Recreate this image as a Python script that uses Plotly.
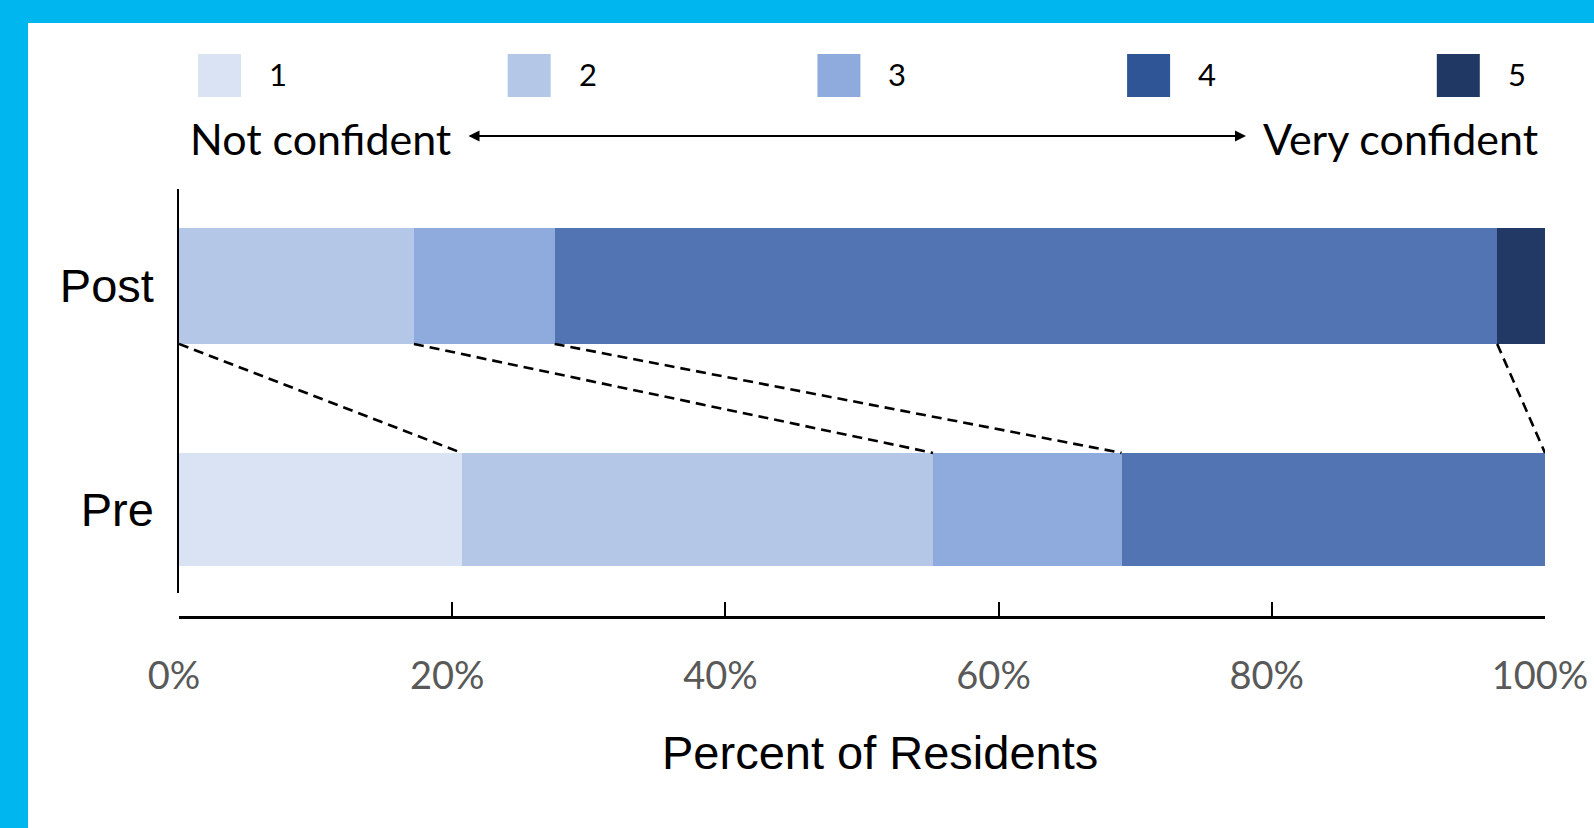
import numpy as np
import plotly.graph_objects as go

# ---------------- data ----------------
categories = ["Pre", "Post"]
levels = ["1", "2", "3", "4", "5"]
pre_pct = [20.7, 34.5, 13.8, 31.0, 0.0]
post_pct = [0.0, 17.2, 10.3, 69.0, 3.5]
x_tick_vals = [0, 20, 40, 60, 80, 100]
x_tick_text = ["0%", "20%", "40%", "60%", "80%", "100%"]
left_label = "Not confident"
right_label = "Very confident"
x_title = "Percent of Residents"

# ---------------- style ----------------
bar_colors = ["#DAE3F3", "#B4C7E7", "#8FAADC", "#5274B3", "#223865"]
legend_colors = ["#DAE3F3", "#B4C7E7", "#8FAADC", "#2F5597", "#203864"]
cyan = "#00B6EF"
W, H = 1594, 828
PL, PR, PT, PB = 179, 1545, 189, 617   # plot area in pixels
bar_widths = [0.506, 0.519]
y_range = [-0.374, 1.434]
x_range = [0, 100]


def px_x(p):
    return (p - PL) / (PR - PL)


def px_y(p):
    return (PB - p) / (PB - PT)


def px_data_x(p):
    return (p - PL) / (PR - PL) * (x_range[1] - x_range[0]) + x_range[0]


fig = go.Figure()
ypos = [0, 1]
for i, lev in enumerate(levels):
    fig.add_trace(go.Bar(
        orientation="h",
        x=[pre_pct[i], post_pct[i]],
        y=ypos,
        width=bar_widths,
        name=lev,
        marker=dict(color=bar_colors[i], line=dict(width=0)),
        showlegend=False,
        hoverinfo="skip",
    ))

# dashed connectors between cumulative boundaries (same level in both bars)
post_cum = np.cumsum(post_pct)
pre_cum = np.cumsum(pre_pct)
for k in range(4):
    fig.add_trace(go.Scatter(
        x=[post_cum[k], pre_cum[k]],
        y=[1 - bar_widths[1] / 2, 0 + bar_widths[0] / 2],
        mode="lines",
        line=dict(color="black", width=2.6, dash="10px,6px"),
        showlegend=False,
        hoverinfo="skip",
        cliponaxis=False,
    ))

shapes = []
annotations = []

# cyan frame (top and left)
shapes.append(dict(type="rect", xref="paper", yref="paper",
                   x0=px_x(0), x1=px_x(W), y0=px_y(23), y1=px_y(0),
                   fillcolor=cyan, line=dict(width=0), layer="above"))
shapes.append(dict(type="rect", xref="paper", yref="paper",
                   x0=px_x(0), x1=px_x(28), y0=px_y(H), y1=px_y(0),
                   fillcolor=cyan, line=dict(width=0), layer="above"))

# custom legend
for i, lev in enumerate(levels):
    x0 = 198 + i * 309.7
    shapes.append(dict(type="rect", xref="paper", yref="paper",
                       x0=px_x(x0), x1=px_x(x0 + 43), y0=px_y(97), y1=px_y(54),
                       fillcolor=legend_colors[i], line=dict(width=0)))
    annotations.append(dict(xref="paper", yref="paper", x=px_x(x0 + 80), y=px_y(74),
                            text=lev, showarrow=False, xanchor="center", yanchor="middle",
                            font=dict(family="Lato", size=31, color="black")))

# confidence arrow
annotations.append(dict(xref="x", yref="paper", x=px_data_x(1246), y=px_y(136),
                        axref="x", ayref="pixel", ax=px_data_x(467), ay=0,
                        text="", showarrow=True, arrowside="end+start", arrowhead=2,
                        arrowsize=1.1, arrowwidth=2, arrowcolor="black"))
annotations.append(dict(xref="paper", yref="paper", x=px_x(453), y=px_y(138),
                        text=left_label, showarrow=False, xanchor="right", yanchor="middle",
                        font=dict(family="Lato", size=43, color="black")))
annotations.append(dict(xref="paper", yref="paper", x=px_x(1261), y=px_y(138),
                        text=right_label, showarrow=False, xanchor="left", yanchor="middle",
                        font=dict(family="Lato", size=43, color="black")))

# x title
annotations.append(dict(xref="paper", yref="paper", x=px_x(880), y=px_y(752),
                        text=x_title, showarrow=False, xanchor="center", yanchor="middle",
                        font=dict(family="Liberation Sans", size=47, color="black")))

fig.update_layout(
    width=W, height=H,
    margin=dict(l=PL, r=W - PR, t=PT, b=H - PB, pad=0),
    paper_bgcolor="white", plot_bgcolor="white",
    barmode="stack", bargap=0,
    shapes=shapes, annotations=annotations,
    showlegend=False,
    xaxis=dict(range=x_range, tickvals=x_tick_vals, ticktext=x_tick_text,
               ticks="inside", ticklen=14, tickwidth=2, tickcolor="black",
               showline=True, linecolor="black", linewidth=3,
               showgrid=False, zeroline=False, anchor="free", position=0,
               automargin=False,
               ticklabelstandoff=24, ticklabelshift=-5,
               tickfont=dict(family="Lato", size=38, color="#595959")),
    yaxis=dict(range=y_range, domain=[px_y(593), 1], tickvals=ypos, ticktext=categories,
               ticks="", showline=True, linecolor="black", linewidth=1.5,
               showgrid=False, zeroline=False, ticklabelstandoff=14,
               automargin=False,
               tickfont=dict(family="Liberation Sans", size=47, color="black")),
)

fig.write_html("out.html")
